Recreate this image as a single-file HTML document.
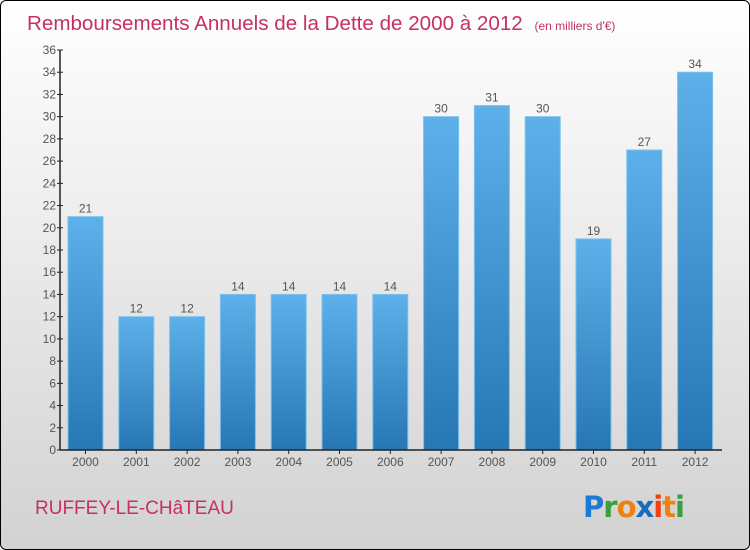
<!DOCTYPE html>
<html><head><meta charset="utf-8"><style>
body{margin:0;width:750px;height:550px;overflow:hidden;font-family:"Liberation Sans",sans-serif}
#wrap{position:absolute;left:0;top:0;width:748px;height:548px;border:1px solid #000;border-radius:6px;background:linear-gradient(#ffffff,#d2d2d2);overflow:hidden}
</style></head><body>
<div id="wrap">
<svg id="chart" width="750" height="550" style="position:absolute;left:-1px;top:-1px">
<defs><linearGradient id="bg" x1="0" y1="0" x2="0" y2="1"><stop offset="0" stop-color="#5eb0ea"/><stop offset="1" stop-color="#2677b4"/></linearGradient></defs>
<text x="27" y="30" font-size="20.6" fill="#c8305e">Remboursements Annuels de la Dette de 2000 à 2012 <tspan font-size="12" dx="6">(en milliers d'€)</tspan></text>
<text x="35" y="514" font-size="19" fill="#c8305e">RUFFEY-LE-CHâTEAU</text>
<g font-size="29" font-weight="bold" font-family="'DejaVu Sans',sans-serif">
<text x="583" y="517" textLength="102"><tspan fill="#1a7ad6">P</tspan><tspan fill="#3aa03a">r</tspan><tspan fill="#f08010">o</tspan><tspan fill="#1a6ac0">x</tspan><tspan fill="#f04010">i</tspan><tspan fill="#f08010">t</tspan><tspan fill="#3aa03a">i</tspan></text></g>
<g id="plot"></g>
</svg></div>
<script>
const categories=["2000","2001","2002","2003","2004","2005","2006","2007","2008","2009","2010","2011","2012"];
const values=[21,12,12,14,14,14,14,30,31,30,19,27,34];
const yTicks=[0,2,4,6,8,10,12,14,16,18,20,22,24,26,28,30,32,34,36];
const NS="http://www.w3.org/2000/svg";
const g=document.getElementById('plot');
const y0=450,y1=50,yMax=36;
const y=v=>y0-(v/yMax)*(y0-y1);
const x=i=>85.5+i*50.8;
function mk(t,a,txt){const e=document.createElementNS(NS,t);for(const k in a)e.setAttribute(k,a[k]);if(txt!=null)e.textContent=txt;g.appendChild(e);return e;}
values.forEach((v,i)=>{
 const r=mk('rect',{x:x(i)-17.5,y:y(v),width:35,height:y0-y(v),fill:'url(#bg)',stroke:'#7cc0ee','stroke-width':1});
 
 
 const l=mk('text',{x:x(i),y:y(v)-4,'text-anchor':'middle','font-size':12,fill:'#555'},String(v));
 
 
 const c=mk('text',{x:x(i),y:466,'text-anchor':'middle','font-size':12,fill:'#555'},categories[i]);
 
 
 mk('line',{x1:x(i),x2:x(i),y1:y0,y2:y0+4,stroke:'#222'});
});
yTicks.forEach(t=>{
 mk('line',{x1:57,x2:63,y1:y(t),y2:y(t),stroke:'#222'});
 const e=mk('text',{x:56,y:y(t)+4,'text-anchor':'end','font-size':12,fill:'#555'},String(t));
 
 
});
const ya=mk('line',{x1:60,x2:60,y1:y1,y2:y0,stroke:'#222','stroke-width':1.5});


const xa=mk('line',{x1:60,x2:722,y1:y0,y2:y0,stroke:'#222','stroke-width':1.5});


</script>
</body></html>
